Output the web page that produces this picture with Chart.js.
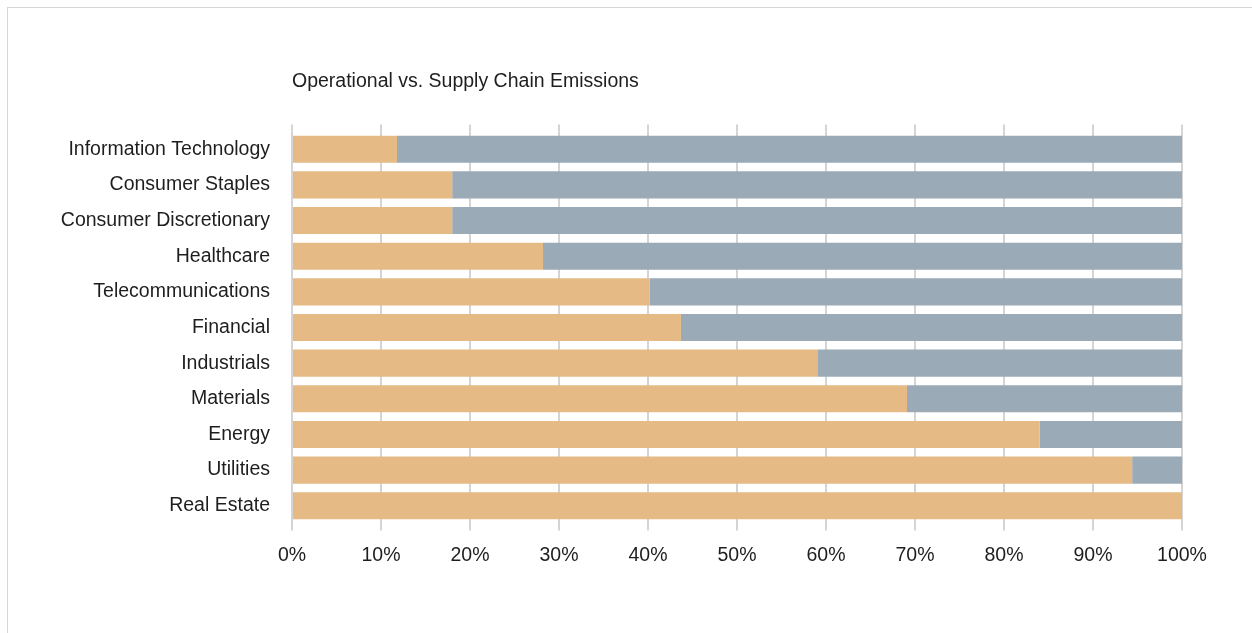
<!DOCTYPE html>
<html>
<head>
<meta charset="utf-8">
<script src="https://cdn.jsdelivr.net/npm/chart.js@4/dist/chart.umd.min.js"></script>
<style>
  html, body { margin: 0; padding: 0; background: #fff; overflow: hidden; }
  #frame { position: absolute; left: 7px; top: 7px; width: 1400px; height: 800px; border: 1px solid #d6d6d6; }
  #wrap { position: absolute; left: 0; top: 0; width: 1252px; height: 633px; }
</style>
</head>
<body>
<div id="frame"></div>
<div id="wrap"><canvas id="emissions" width="1252" height="633"></canvas></div>
<script>
// sectors, top to bottom
const sectors = [
    'Information Technology',
    'Consumer Staples',
    'Consumer Discretionary',
    'Healthcare',
    'Telecommunications',
    'Financial',
    'Industrials',
    'Materials',
    'Energy',
    'Utilities',
    'Real Estate'
]
// share of emissions, percent
const operational = [11.8, 18.0, 18.0, 28.2, 40.2, 43.7, 59.1, 69.1, 84.0, 94.4, 100]
const supplyChain = [88.2, 82.0, 82.0, 71.8, 59.8, 56.3, 40.9, 30.9, 16.0, 5.6, 0]
const xTicks = [0, 10, 20, 30, 40, 50, 60, 70, 80, 90, 100]

const gridColor = '#d4d4d4'
const textColor = '#1e1e1e'
const fontFamily = '"Liberation Sans", Arial, Helvetica, sans-serif'

// grid lines poke a little above the plot too
const gridTop = {
    id: 'gridTop',
    beforeDatasetsDraw(chart) {
        const ctx = chart.ctx
        const x = chart.scales.x
        const top = chart.chartArea.top
        ctx.save()
        ctx.strokeStyle = gridColor
        ctx.lineWidth = 2
        for (const v of xTicks) {
            const px = Math.round(x.getPixelForValue(v))
            ctx.beginPath()
            ctx.moveTo(px, top - 7)
            ctx.lineTo(px, top)
            ctx.stroke()
        }
        ctx.restore()
    }
}

Chart.defaults.font.family = fontFamily
Chart.defaults.color = textColor

new Chart(document.getElementById('emissions'), {
    type: 'bar',
    data: {
        labels: sectors,
        datasets: [
            { label: 'Operational', data: operational, backgroundColor: '#e5ba84', borderWidth: 0 },
            { label: 'Supply Chain', data: supplyChain, backgroundColor: '#9aaab7', borderWidth: 0 }
        ]
    },
    options: {
        indexAxis: 'y',
        responsive: false,
        animation: false,
        categoryPercentage: 1,
        barPercentage: 0.76,
        layout: { padding: { left: 0, right: 70, top: 0, bottom: 53 } },
        plugins: {
            legend: { display: false },
            tooltip: { enabled: false },
            title: {
                display: true,
                text: 'Operational vs. Supply Chain Emissions',
                align: 'start',
                fullSize: false,
                color: textColor,
                font: { size: 19.5, weight: 'normal' },
                padding: { top: 70, bottom: 38 }
            }
        },
        scales: {
            x: {
                stacked: true,
                min: 0,
                max: 100,
                afterBuildTicks: (scale) => { scale.ticks = xTicks.map(v => ({ value: v })) },
                grid: { color: gridColor, lineWidth: 2, drawTicks: true, tickLength: 7 },
                border: { display: false },
                ticks: {
                    padding: 13,
                    color: textColor,
                    font: { size: 19.5 },
                    maxRotation: 0,
                    callback: (v) => v + '%'
                }
            },
            y: {
                stacked: true,
                grid: { display: false },
                border: { display: false },
                afterFit: (scale) => { scale.width = 292 },
                ticks: { padding: 14, color: textColor, font: { size: 19.5 } }
            }
        }
    },
    plugins: [gridTop]
})
</script>
</body>
</html>
